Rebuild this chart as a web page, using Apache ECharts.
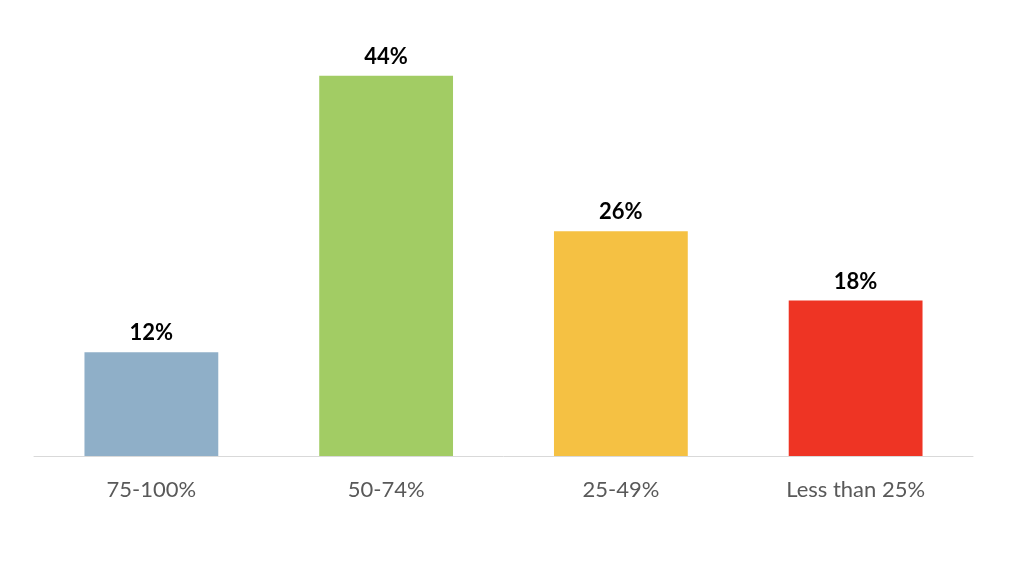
<!DOCTYPE html>
<html>
<head>
<meta charset="utf-8">
<script src="https://cdn.jsdelivr.net/npm/echarts@6/dist/echarts.min.js"></script>
<style>html,body{margin:0;padding:0;background:#fff;}#c{width:1024px;height:570px;}</style>
</head>
<body>
<div id="c"></div>
<script>
const categories = ['75-100%', '50-74%', '25-49%', 'Less than 25%'];
const values = [12, 44, 26, 18];
const colors = ['#8FAFC8', '#A2CC64', '#F5C143', '#EE3424'];

const chart = echarts.init(document.getElementById('c'));
chart.setOption({
  animation: false,
  backgroundColor: '#ffffff',
  grid: { left: 34, right: 51, top: 24, bottom: 114, containLabel: false },
  xAxis: {
    type: 'category',
    data: categories,
    axisLine: { lineStyle: { color: '#D9D9D9', width: 1 } },
    axisTick: { show: false },
    axisLabel: { color: '#595959', fontSize: 22, fontFamily: 'Lato', margin: 23 }
  },
  yAxis: {
    type: 'value', min: 0, max: 50, interval: 10,
    show: false,
    splitLine: { show: false }
  },
  series: [{
    type: 'bar',
    barWidth: '57%',
    data: values.map((v, i) => ({ value: v, itemStyle: { color: colors[i] } })),
    label: {
      show: true, position: 'top', distance: 8,
      formatter: p => p.value + '%',
      color: '#000', fontWeight: 'bold', fontSize: 22, fontFamily: 'Lato'
    }
  }]
});
</script>
</body>
</html>
